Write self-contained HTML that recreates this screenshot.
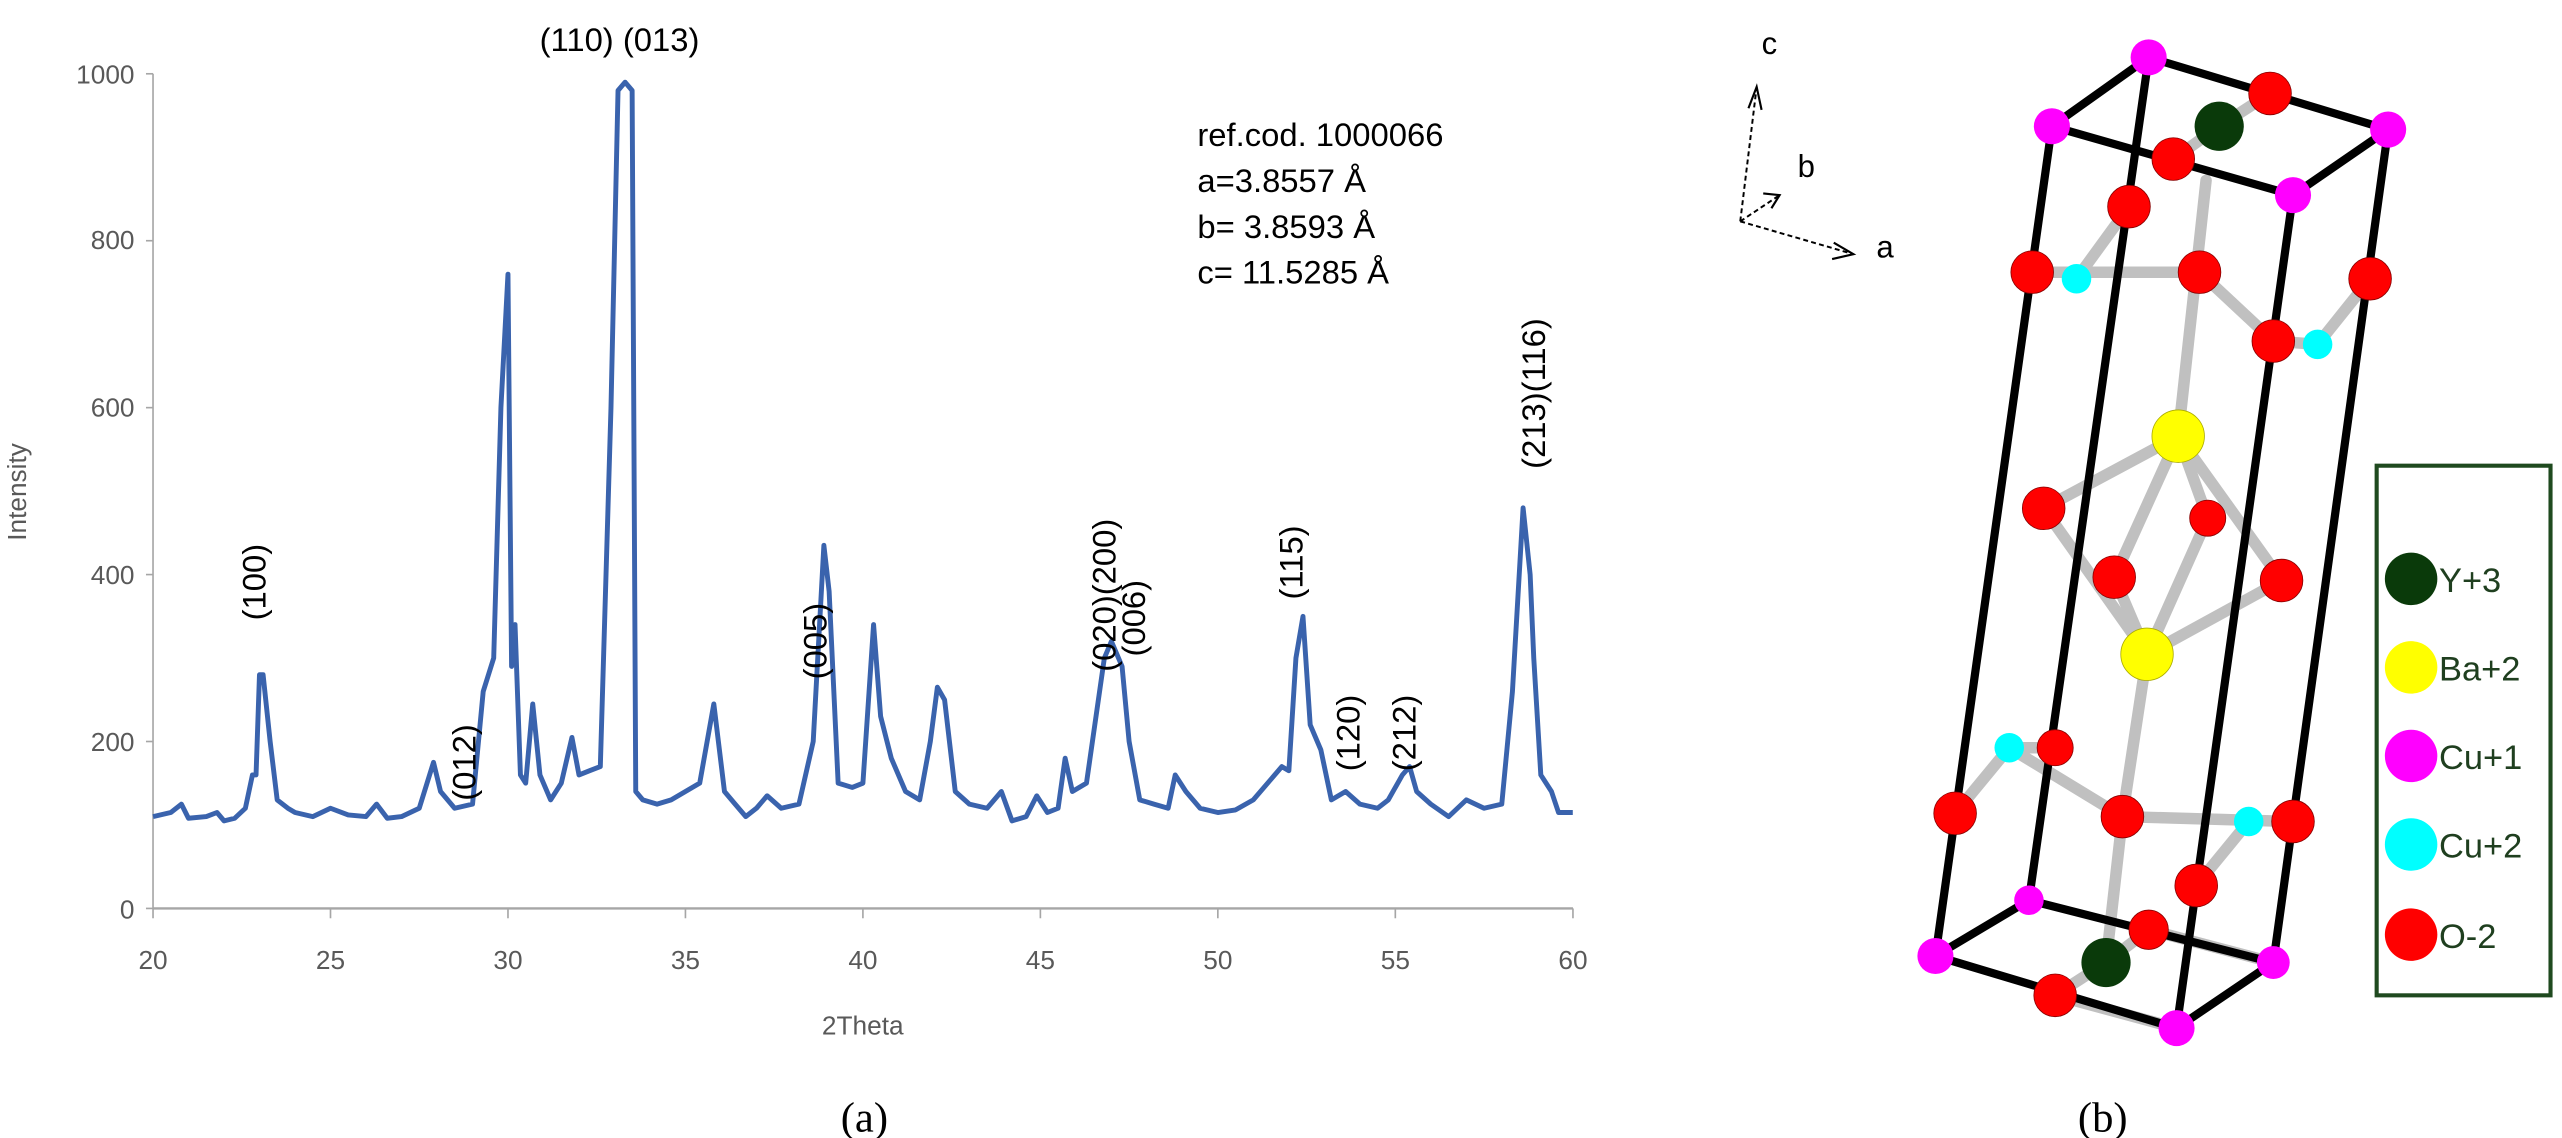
<!DOCTYPE html>
<html><head><meta charset="utf-8"><style>
html,body{margin:0;padding:0;background:#fff;}
svg{display:block;}
</style></head><body>
<svg id="s" width="2562" height="1138" viewBox="0 0 1562 694" preserveAspectRatio="none" xmlns="http://www.w3.org/2000/svg" font-family="Liberation Sans, sans-serif">
<rect width="1562" height="694" fill="#fff"/>
<g stroke="#a6a6a6" stroke-width="1">
<line x1="93.3" y1="45" x2="93.3" y2="554"/>
<line x1="93.3" y1="554" x2="959" y2="554" stroke-width="1.5"/>
<line x1="89" y1="45" x2="93.3" y2="45"/><line x1="89" y1="146.8" x2="93.3" y2="146.8"/><line x1="89" y1="248.6" x2="93.3" y2="248.6"/><line x1="89" y1="350.4" x2="93.3" y2="350.4"/><line x1="89" y1="452.2" x2="93.3" y2="452.2"/><line x1="89" y1="554" x2="93.3" y2="554"/>
<line x1="93.3" y1="554" x2="93.3" y2="560"/><line x1="201.5" y1="554" x2="201.5" y2="560"/><line x1="309.7" y1="554" x2="309.7" y2="560"/><line x1="417.9" y1="554" x2="417.9" y2="560"/><line x1="526.1" y1="554" x2="526.1" y2="560"/><line x1="634.3" y1="554" x2="634.3" y2="560"/><line x1="742.5" y1="554" x2="742.5" y2="560"/><line x1="850.7" y1="554" x2="850.7" y2="560"/><line x1="959" y1="554" x2="959" y2="560"/>
</g>
<g fill="#595959" font-size="16" text-anchor="end">
<text x="82" y="51">1000</text><text x="82" y="152">800</text><text x="82" y="254">600</text><text x="82" y="356">400</text><text x="82" y="458">200</text><text x="82" y="560">0</text>
</g>
<g fill="#595959" font-size="16" text-anchor="middle">
<text x="93.3" y="591">20</text><text x="201.5" y="591">25</text><text x="309.7" y="591">30</text><text x="417.9" y="591">35</text><text x="526.1" y="591">40</text><text x="634.3" y="591">45</text><text x="742.5" y="591">50</text><text x="850.7" y="591">55</text><text x="959" y="591">60</text>
<text x="526" y="631">2Theta</text>
<text transform="translate(16,300) rotate(-90)">Intensity</text>
</g>
<path id="line" fill="none" stroke="#3a63ad" stroke-width="3" stroke-linejoin="round"/>
<g font-size="20" fill="#000">
<text x="329" y="31">(110) (013)</text>
<text x="730" y="89">ref.cod. 1000066</text>
<text x="730" y="117">a=3.8557 Å</text>
<text x="730" y="145">b=  3.8593 Å</text>
<text x="730" y="173">c= 11.5285 Å</text>
<g text-anchor="middle">
<text transform="translate(162,355) rotate(-90)">(100)</text>
<text transform="translate(290,465) rotate(-90)">(012)</text>
<text transform="translate(504,391) rotate(-90)">(005)</text>
<text transform="translate(680,363) rotate(-90)">(020)(200)</text>
<text transform="translate(698,377) rotate(-90)">(006)</text>
<text transform="translate(794,343) rotate(-90)">(115)</text>
<text transform="translate(829,447) rotate(-90)">(120)</text>
<text transform="translate(863,447) rotate(-90)">(212)</text>
<text transform="translate(942,240) rotate(-90)">(213)(116)</text>
</g>
</g>
<g font-family="Liberation Serif, serif" font-size="26" text-anchor="middle" fill="#000">
<text x="527" y="690">(a)</text><text x="1282" y="690">(b)</text>
</g>
<g stroke="#000" stroke-width="1.2" stroke-dasharray="3,2" fill="none">
<line x1="1061" y1="135" x2="1071" y2="53"/><line x1="1061" y1="135" x2="1085" y2="119"/><line x1="1061" y1="135" x2="1130" y2="155"/>
</g>
<g stroke="#000" stroke-width="1.3" fill="none">
<polyline points="1066,66 1071,53 1074,67"/><polyline points="1075,118 1085,119 1080,127"/><polyline points="1118,148 1130,155 1117,158"/>
</g>
<g font-size="19" fill="#000"><text x="1074" y="33">c</text><text x="1096" y="108">b</text><text x="1144" y="157">a</text></g>
<g stroke="#c0c0c0" stroke-width="7" stroke-linecap="round">
<line x1="1353" y1="77" x2="1325" y2="97"/><line x1="1353" y1="77" x2="1384" y2="57"/>
<line x1="1239" y1="166" x2="1341" y2="166"/><line x1="1266" y1="170" x2="1298" y2="126"/>
<line x1="1341" y1="166" x2="1386" y2="208"/><line x1="1386" y1="208" x2="1413" y2="210"/><line x1="1413" y1="210" x2="1445" y2="170"/>
<line x1="1345" y1="110" x2="1328" y2="266"/>
<line x1="1328" y1="266" x2="1246" y2="310"/><line x1="1328" y1="266" x2="1289" y2="352"/><line x1="1328" y1="266" x2="1346" y2="316"/><line x1="1328" y1="266" x2="1391" y2="354"/>
<line x1="1246" y1="310" x2="1309" y2="399"/><line x1="1289" y1="352" x2="1309" y2="399"/><line x1="1346" y1="316" x2="1309" y2="399"/><line x1="1391" y1="354" x2="1309" y2="399"/>
<line x1="1309" y1="399" x2="1294" y2="498"/>
<line x1="1192" y1="496" x2="1225" y2="456"/><line x1="1225" y1="456" x2="1253" y2="456"/><line x1="1225" y1="456" x2="1294" y2="498"/>
<line x1="1294" y1="498" x2="1398" y2="501"/><line x1="1371" y1="501" x2="1339" y2="540"/>
<line x1="1294" y1="498" x2="1284" y2="587"/><line x1="1284" y1="587" x2="1310" y2="567"/><line x1="1284" y1="587" x2="1253" y2="607"/>
<line x1="1253" y1="607" x2="1327" y2="627"/><line x1="1310" y1="567" x2="1386" y2="587"/>
</g>
<g stroke="#000" stroke-width="5" stroke-linecap="round" fill="none">
<polygon points="1251,77 1310,35 1456,79 1398,119"/>
<polygon points="1180,583 1237,549 1386,587 1327,627"/>
<line x1="1251" y1="77" x2="1180" y2="583"/><line x1="1310" y1="35" x2="1237" y2="549"/>
<line x1="1456" y1="79" x2="1386" y2="587"/><line x1="1398" y1="119" x2="1327" y2="627"/>
</g>
<g stroke="#800" stroke-width="0.5" fill="#f00">
<circle cx="1384" cy="57" r="13"/><circle cx="1298" cy="126" r="13"/><circle cx="1239" cy="166" r="13"/><circle cx="1341" cy="166" r="13"/><circle cx="1445" cy="170" r="13"/><circle cx="1386" cy="208" r="13"/><circle cx="1246" cy="310" r="13"/><circle cx="1346" cy="316" r="11"/><circle cx="1289" cy="352" r="13"/><circle cx="1391" cy="354" r="13"/><circle cx="1192" cy="496" r="13"/><circle cx="1294" cy="498" r="13"/><circle cx="1398" cy="501" r="13"/><circle cx="1339" cy="540" r="13"/><circle cx="1253" cy="456" r="11"/><circle cx="1310" cy="567" r="12"/><circle cx="1253" cy="607" r="13"/><circle cx="1325" cy="97" r="13"/>
</g>
<g fill="#ff00ff"><circle cx="1310" cy="35" r="11"/><circle cx="1251" cy="77" r="11"/><circle cx="1456" cy="79" r="11"/><circle cx="1398" cy="119" r="11"/><circle cx="1237" cy="549" r="9"/><circle cx="1180" cy="583" r="11"/><circle cx="1386" cy="587" r="10"/><circle cx="1327" cy="627" r="11"/></g>
<g fill="#0ff"><circle cx="1266" cy="170" r="9"/><circle cx="1413" cy="210" r="9"/><circle cx="1225" cy="456" r="9"/><circle cx="1371" cy="501" r="9"/></g>
<g fill="#0a3a0a"><circle cx="1353" cy="77" r="15"/><circle cx="1284" cy="587" r="15"/></g>
<g fill="#ff0" stroke="#aa0" stroke-width="0.5"><circle cx="1328" cy="266" r="16"/><circle cx="1309" cy="399" r="16"/></g>
<rect x="1449" y="284" width="106" height="323" fill="#fff" stroke="#1f4a1f" stroke-width="2.5"/>
<circle cx="1470" cy="353" r="16" fill="#0a3a0a"/><circle cx="1470" cy="407" r="16" fill="#ff0"/><circle cx="1470" cy="461" r="16" fill="#ff00ff"/><circle cx="1470" cy="515" r="16" fill="#0ff"/><circle cx="1470" cy="570" r="16" fill="#f00"/>
<g font-size="21" fill="#1f3f1f"><text x="1487" y="361">Y+3</text><text x="1487" y="415">Ba+2</text><text x="1487" y="469">Cu+1</text><text x="1487" y="523">Cu+2</text><text x="1487" y="578">O-2</text></g>
</svg>
<script>
var d=[[20,110],[20.5,115],[20.8,125],[21,108],[21.5,110],[21.8,115],[22,105],[22.3,108],[22.6,120],[22.8,160],[22.9,160],[23.0,280],[23.1,280],[23.3,200],[23.5,130],[23.8,120],[24,115],[24.5,110],[25,120],[25.5,112],[26,110],[26.3,125],[26.6,108],[27,110],[27.5,120],[27.9,175],[28.1,140],[28.5,120],[29,125],[29.3,260],[29.6,300],[29.8,600],[30.0,760],[30.1,290],[30.2,340],[30.35,160],[30.5,150],[30.7,245],[30.9,160],[31.2,130],[31.5,150],[31.8,205],[32.0,160],[32.3,165],[32.6,170],[32.9,600],[33.1,980],[33.3,990],[33.5,980],[33.6,140],[33.8,130],[34.2,125],[34.6,130],[35.0,140],[35.4,150],[35.8,245],[36.1,140],[36.4,125],[36.7,110],[37.0,120],[37.3,135],[37.7,120],[38.2,125],[38.6,200],[38.9,435],[39.05,380],[39.3,150],[39.7,145],[40.0,150],[40.3,340],[40.5,230],[40.8,180],[41.2,140],[41.6,130],[41.9,200],[42.1,265],[42.3,250],[42.6,140],[43.0,125],[43.5,120],[43.9,140],[44.2,105],[44.6,110],[44.9,135],[45.2,115],[45.5,120],[45.7,180],[45.9,140],[46.3,150],[46.8,300],[47.0,320],[47.3,290],[47.5,200],[47.8,130],[48.2,125],[48.6,120],[48.8,160],[49.1,140],[49.5,120],[50,115],[50.5,118],[51,130],[51.5,155],[51.8,170],[52.0,165],[52.2,300],[52.4,350],[52.6,220],[52.9,190],[53.2,130],[53.6,140],[54.0,125],[54.5,120],[54.8,130],[55.2,160],[55.4,170],[55.6,140],[56.0,125],[56.5,110],[57.0,130],[57.5,120],[58.0,125],[58.3,260],[58.6,480],[58.8,400],[58.9,300],[59.1,160],[59.4,140],[59.6,115],[60,115]];
var p=d.map(function(v,i){return (i?'L':'M')+(93.3+(v[0]-20)*21.64).toFixed(1)+','+(554-v[1]*0.509).toFixed(1);}).join(' ');
document.getElementById('line').setAttribute('d',p);
</script>
</body></html>
